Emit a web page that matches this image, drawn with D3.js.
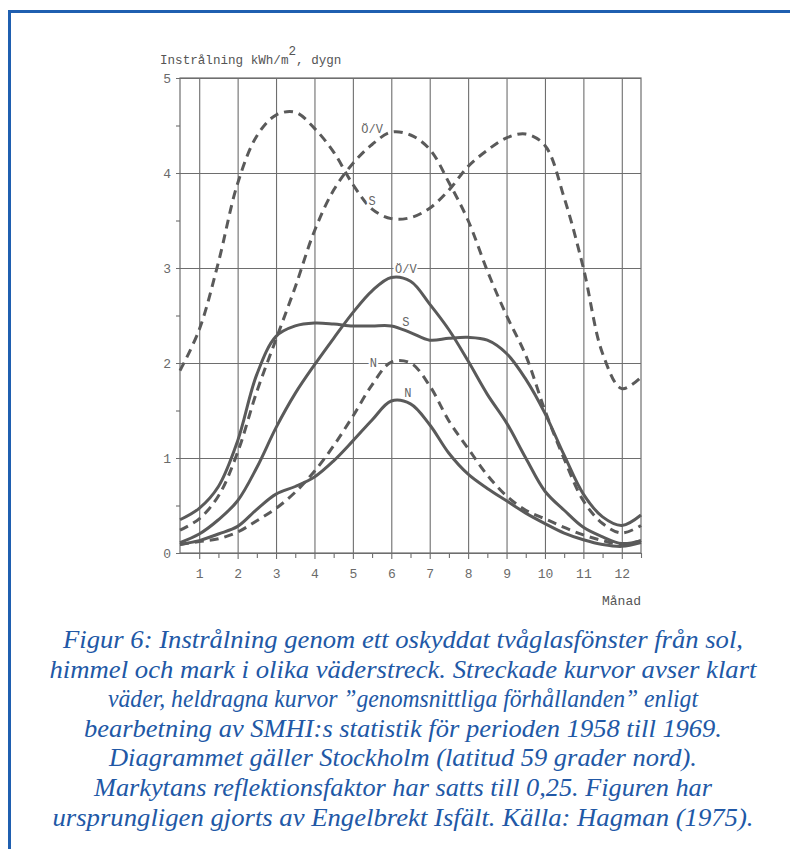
<!DOCTYPE html>
<html>
<head>
<meta charset="utf-8">
<script src="https://cdn.jsdelivr.net/npm/d3@7"></script>
<style>
  body { margin: 0; background: #fff; }
  .tick text { font-family: "Liberation Mono", monospace; fill: #6a6a6a; }
</style>
</head>
<body>
<div id="container"></div>
<script>
let w = 790;
let h = 849;

// plot frame
let plotLeft = 180, plotRight = 641, plotTop = 78, plotBottom = 553;

// DATA (kWh/m2 per day, half-month steps)
let months = [0.5, 1, 1.5, 2, 2.5, 3, 3.5, 4, 4.5, 5, 5.5, 6, 6.5, 7, 7.5, 8, 8.5, 9, 9.5, 10, 10.5, 11, 11.5, 12, 12.5];

// clear weather (dashed)
let sClear  = [1.92, 2.35, 3.06, 3.89, 4.39, 4.61, 4.64, 4.47, 4.22, 3.88, 3.62, 3.52, 3.53, 3.63, 3.82, 4.07, 4.24, 4.37, 4.41, 4.29, 3.74, 3.0, 2.1, 1.73, 1.85];
let ovClear = [0.24, 0.36, 0.6, 1.06, 1.7, 2.25, 2.8, 3.39, 3.82, 4.1, 4.3, 4.43, 4.4, 4.25, 3.9, 3.5, 2.97, 2.5, 2.08, 1.5, 0.99, 0.55, 0.31, 0.21, 0.29];
let nClear  = [0.09, 0.12, 0.15, 0.22, 0.34, 0.47, 0.64, 0.86, 1.13, 1.44, 1.77, 2.01, 2.0, 1.76, 1.39, 1.1, 0.82, 0.6, 0.45, 0.36, 0.27, 0.19, 0.13, 0.09, 0.13];

// average conditions (solid)
let sMean  = [0.35, 0.47, 0.7, 1.18, 1.88, 2.28, 2.39, 2.42, 2.41, 2.39, 2.39, 2.39, 2.32, 2.24, 2.26, 2.27, 2.24, 2.1, 1.83, 1.47, 1.03, 0.62, 0.38, 0.29, 0.4];
let ovMean = [0.11, 0.2, 0.35, 0.55, 0.9, 1.32, 1.68, 1.98, 2.26, 2.53, 2.76, 2.9, 2.86, 2.62, 2.35, 2.02, 1.67, 1.37, 1.0, 0.65, 0.45, 0.27, 0.17, 0.1, 0.13];
let nMean  = [0.09, 0.13, 0.2, 0.28, 0.46, 0.62, 0.7, 0.8, 0.97, 1.18, 1.4, 1.6, 1.57, 1.35, 1.05, 0.83, 0.68, 0.55, 0.42, 0.31, 0.21, 0.14, 0.09, 0.07, 0.11];

let monthTicks = [1, 2, 3, 4, 5, 6, 7, 8, 9, 10, 11, 12];
let halfTicks = [1.5, 2.5, 3.5, 4.5, 5.5, 6.5, 7.5, 8.5, 9.5, 10.5, 11.5, 12.5];
let valueTicks = [0, 1, 2, 3, 4, 5];
let halfValueTicks = [0.5, 1.5, 2.5, 3.5, 4.5];

// curve labels: text, month, value
let labelText  = ["Ö/V", "S", "Ö/V", "S", "N", "N"];
let labelMonth = [5.5, 5.5, 6.38, 6.38, 5.53, 6.43];
let labelValue = [4.42, 3.66, 2.95, 2.39, 1.96, 1.64];

let caption = [
  "Figur 6: Instrålning genom ett oskyddat tvåglasfönster från sol,",
  "himmel och mark i olika väderstreck. Streckade kurvor avser klart",
  "väder, heldragna kurvor \u201dgenomsnittliga förhållanden\u201d enligt",
  "bearbetning av SMHI:s statistik för perioden 1958 till 1969.",
  "Diagrammet gäller Stockholm (latitud 59 grader nord).",
  "Markytans reflektionsfaktor har satts till 0,25. Figuren har",
  "ursprungligen gjorts av Engelbrekt Isfält. Källa: Hagman (1975)."
];
// widths of the caption lines in the scan
let captionWidth = [680, 707, 590, 638, 588, 618, 701];

let viz = d3.select("#container").append("svg")
  .attr("width", w)
  .attr("height", h)
  .style("display", "block")
  .style("background-color", "white");

// blue frame (top + left)
viz.append("line").attr("x1", 9.5).attr("x2", w).attr("y1", 11.5).attr("y2", 11.5)
  .attr("stroke", "#1f5fb0").attr("stroke-width", 3);
viz.append("line").attr("x1", 9.5).attr("x2", 9.5).attr("y1", 10).attr("y2", h)
  .attr("stroke", "#1f5fb0").attr("stroke-width", 3);

let x = d3.scaleLinear().domain([0.5, 12.5]).range([plotLeft, plotRight]);
let y = d3.scaleLinear().domain([0, 5]).range([plotBottom, plotTop]);

let gridColor = "#6e6e6e";

// vertical grid + month labels
let xAxis = viz.append("g")
  .attr("transform", "translate(0," + plotBottom + ")")
  .call(d3.axisBottom(x).tickValues(monthTicks).tickSize(-(plotBottom - plotTop)).tickSizeOuter(0).tickPadding(16));
xAxis.select(".domain").remove();
xAxis.selectAll(".tick line").attr("stroke", gridColor).attr("stroke-width", 1.1).attr("y1", 6);
xAxis.selectAll(".tick text").style("font-size", "13px");

// half-month minor ticks
let xMinor = viz.append("g")
  .attr("transform", "translate(0," + plotBottom + ")")
  .call(d3.axisBottom(x).tickValues(halfTicks).tickSize(5).tickFormat(""));
xMinor.select(".domain").remove();
xMinor.selectAll(".tick line").attr("stroke", gridColor).attr("stroke-width", 1.1);

// horizontal grid + value labels
let yAxis = viz.append("g")
  .attr("transform", "translate(" + plotLeft + ",0)")
  .call(d3.axisLeft(y).tickValues(valueTicks).tickFormat(d3.format("d")).tickSize(-(plotRight - plotLeft)).tickPadding(9));
yAxis.select(".domain").remove();
yAxis.selectAll(".tick line").attr("stroke", gridColor).attr("stroke-width", 1.1).attr("x1", -4);
yAxis.selectAll(".tick text").style("font-size", "13px");

let yMinor = viz.append("g")
  .attr("transform", "translate(" + plotLeft + ",0)")
  .call(d3.axisLeft(y).tickValues(halfValueTicks).tickSize(4).tickFormat(""));
yMinor.select(".domain").remove();
yMinor.selectAll(".tick line").attr("stroke", gridColor).attr("stroke-width", 1.1);

// frame of plot
viz.append("rect")
  .attr("x", plotLeft).attr("y", plotTop)
  .attr("width", plotRight - plotLeft).attr("height", plotBottom - plotTop)
  .attr("fill", "none").attr("stroke", gridColor).attr("stroke-width", 1.2);

// y title
let title = viz.append("text")
  .attr("x", 160).attr("y", 64)
  .style("font-family", "'Liberation Mono', monospace")
  .style("font-size", "12.6px")
  .attr("fill", "#555");
title.append("tspan").text("Instrålning kWh/m");
title.append("tspan").attr("dy", -9).text("2");
title.append("tspan").attr("dy", 9).text(", dygn");

// x title
viz.append("text")
  .attr("x", plotRight).attr("y", 605)
  .attr("text-anchor", "end")
  .style("font-family", "'Liberation Mono', monospace")
  .style("font-size", "13px")
  .attr("fill", "#555")
  .text("Månad");

// curves
let series = [
  {values: sClear, dashed: true},
  {values: ovClear, dashed: true},
  {values: nClear, dashed: true},
  {values: sMean, dashed: false},
  {values: ovMean, dashed: false},
  {values: nMean, dashed: false}
];

let lineMaker = d3.line()
  .x(function (d, i) { return x(months[i]); })
  .y(function (d) { return y(d); })
  .curve(d3.curveCatmullRom.alpha(0.5));

viz.selectAll(".curve").data(series).enter()
  .append("path")
  .attr("class", "curve")
  .attr("d", function (d) { return lineMaker(d.values); })
  .attr("fill", "none")
  .attr("stroke", "#5a5a5a")
  .attr("stroke-width", 3)
  .attr("stroke-linecap", "butt")
  .attr("stroke-dasharray", function (d) { return d.dashed ? "9,6" : null; });

// curve labels
viz.selectAll(".clabel").data(labelText).enter()
  .append("text")
  .attr("class", "clabel")
  .attr("x", function (d, i) { return x(labelMonth[i]); })
  .attr("y", function (d, i) { return y(labelValue[i]); })
  .attr("text-anchor", "middle")
  .style("font-family", "'Liberation Mono', monospace")
  .style("font-size", "12px")
  .style("paint-order", "stroke")
  .attr("stroke", "white")
  .attr("stroke-width", 4)
  .attr("fill", "#666")
  .text(function (d) { return d; });

// caption
viz.selectAll(".caption").data(caption).enter()
  .append("text")
  .attr("class", "caption")
  .attr("x", 403)
  .attr("y", function (d, i) { return 648 + i * 29.6; })
  .attr("text-anchor", "middle")
  .attr("textLength", function (d, i) { return captionWidth[i]; })
  .attr("lengthAdjust", "spacingAndGlyphs")
  .style("font-family", "'Liberation Serif'")
  .style("font-style", "italic")
  .style("font-size", "25.5px")
  .attr("fill", "#2158a6")
  .text(function (d) { return d; });
</script>
</body>
</html>
